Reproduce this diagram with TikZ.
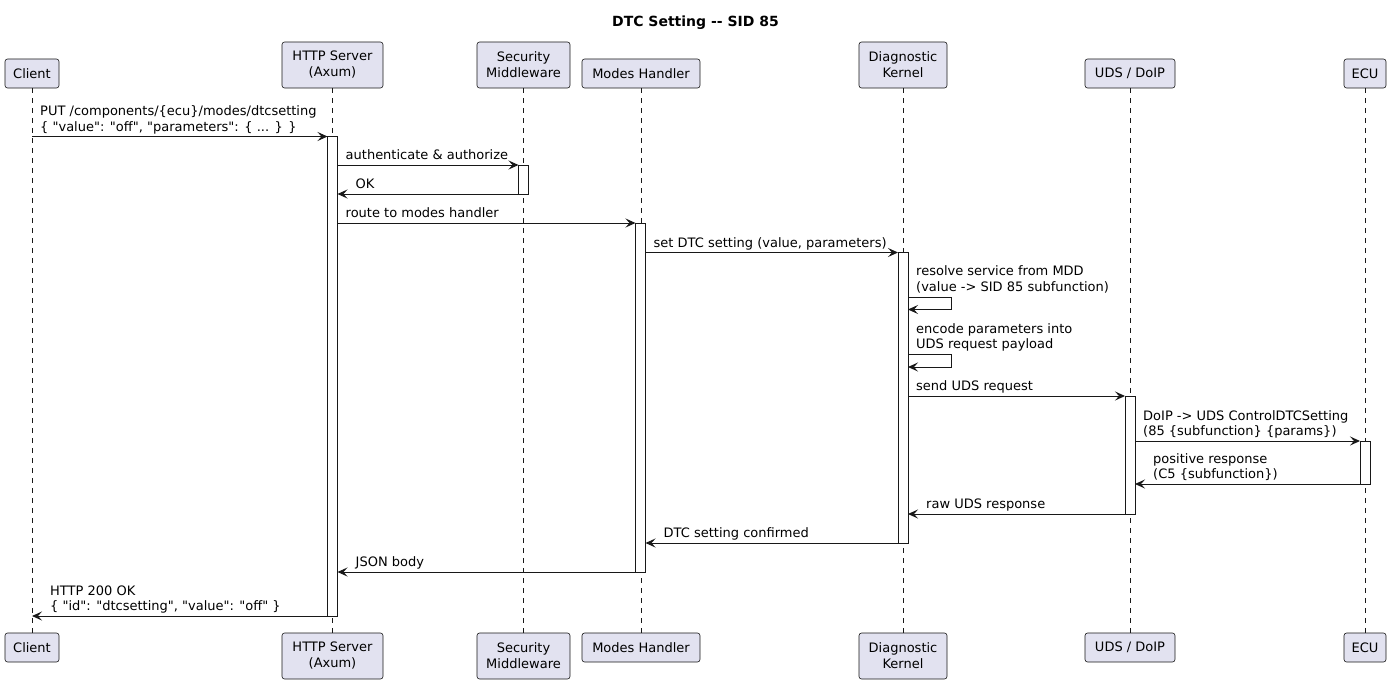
\documentclass[tikz,border=0pt]{standalone}
\usepackage{fontspec}
\setmainfont{DejaVu Sans}
\usetikzlibrary{arrows.meta}
\definecolor{partfill}{HTML}{E2E2F0}
\definecolor{ink}{HTML}{181818}
\newcommand{\qd}{\textquotedbl}
\tikzset{
  part/.style={draw=ink, fill=partfill, line width=0.6pt, rounded corners=2.5pt, align=center, inner sep=0pt, font=\fontsize{13}{16}\selectfont},
  lifeline/.style={draw=ink, line width=0.6pt, dash pattern=on 5pt off 5pt},
  actbar/.style={draw=ink, fill=white, line width=0.9pt},
  msg/.style={draw=ink, line width=1pt, -{Stealth[length=10pt,width=9pt,inset=4pt]}},
  lbl/.style={anchor=base west, inner sep=0pt, font=\fontsize{13}{16}\selectfont},
}
\begin{document}
\begin{tikzpicture}[x=1pt,y=-1pt]
\useasboundingbox (0,0) rectangle (1391,685);
% title
\node[font=\bfseries\fontsize{14}{16}\selectfont, inner sep=0pt] (title) at (695.5,22.5) {DTC Setting -{}- SID 85};
% top participants
\node[part, minimum width=54pt, minimum height=29pt] (client) at (32,73.5) {Client};
\node[part, minimum width=101pt, minimum height=46pt] (http) at (332.5,65) {HTTP Server\\(Axum)};
\node[part, minimum width=93pt, minimum height=46pt] (sec) at (523.5,65) {Security\\Middleware};
\node[part, minimum width=118pt, minimum height=29pt] (modes) at (641,73.5) {Modes Handler};
\node[part, minimum width=88pt, minimum height=46pt] (diag) at (903,65) {Diagnostic\\Kernel};
\node[part, minimum width=90pt, minimum height=29pt] (uds) at (1130,73.5) {UDS / DoIP};
\node[part, minimum width=42pt, minimum height=29pt] (ecu) at (1365,73.5) {ECU};
% bottom participants
\node[part, minimum width=54pt, minimum height=29pt] (clientB) at (32,647.5) {Client};
\node[part, minimum width=101pt, minimum height=46pt] (httpB) at (332.5,656) {HTTP Server\\(Axum)};
\node[part, minimum width=93pt, minimum height=46pt] (secB) at (523.5,656) {Security\\Middleware};
\node[part, minimum width=118pt, minimum height=29pt] (modesB) at (641,647.5) {Modes Handler};
\node[part, minimum width=88pt, minimum height=46pt] (diagB) at (903,656) {Diagnostic\\Kernel};
\node[part, minimum width=90pt, minimum height=29pt] (udsB) at (1130,647.5) {UDS / DoIP};
\node[part, minimum width=42pt, minimum height=29pt] (ecuB) at (1365,647.5) {ECU};
% lifelines
\draw[lifeline] (client.south) -- (clientB.north);
\draw[lifeline] (http.south) -- (httpB.north);
\draw[lifeline] (sec.south) -- (secB.north);
\draw[lifeline] (modes.south) -- (modesB.north);
\draw[lifeline] (diag.south) -- (diagB.north);
\draw[lifeline] (uds.south) -- (udsB.north);
\draw[lifeline] (ecu.south) -- (ecuB.north);
% activation bars
\draw[actbar] (327.5,136.5) rectangle (337.5,616);
\draw[actbar] (518.5,165) rectangle (528.5,194);
\draw[actbar] (635.5,223) rectangle (645.5,572);
\draw[actbar] (898,252.5) rectangle (908,543);
\draw[actbar] (1125,396) rectangle (1135,514);
\draw[actbar] (1360,441) rectangle (1370,484);
% message end points
\coordinate (m1a) at (32,136.5);    \coordinate (m1b) at (327.5,136.5);
\coordinate (m2a) at (337.5,165);   \coordinate (m2b) at (518.5,165);
\coordinate (m3a) at (518.5,194);   \coordinate (m3b) at (337.5,194);
\coordinate (m4a) at (337.5,223);   \coordinate (m4b) at (635.5,223);
\coordinate (m5a) at (645.5,252.5); \coordinate (m5b) at (898,252.5);
\coordinate (m6a) at (908,297);     \coordinate (m6b) at (908,309.5);
\coordinate (m7a) at (908,354.5);   \coordinate (m7b) at (908,367);
\coordinate (m8a) at (908,396);     \coordinate (m8b) at (1125,396);
\coordinate (m9a) at (1135,441);    \coordinate (m9b) at (1360,441);
\coordinate (m10a) at (1360,484);   \coordinate (m10b) at (1135,484);
\coordinate (m11a) at (1125,514);   \coordinate (m11b) at (908,514);
\coordinate (m12a) at (898,543);    \coordinate (m12b) at (645.5,543);
\coordinate (m13a) at (635.5,572);  \coordinate (m13b) at (337.5,572);
\coordinate (m14a) at (327.5,616);  \coordinate (m14b) at (32,616);
% messages
\draw[msg] (m1a) -- (m1b);
\draw[msg] (m2a) -- (m2b);
\draw[msg] (m3a) -- (m3b);
\draw[msg] (m4a) -- (m4b);
\draw[msg] (m5a) -- (m5b);
\draw[msg] (m6a) -- ++(43,0) |- (m6b);
\draw[msg] (m7a) -- ++(43,0) |- (m7b);
\draw[msg] (m8a) -- (m8b);
\draw[msg] (m9a) -- (m9b);
\draw[msg] (m10a) -- (m10b);
\draw[msg] (m11a) -- (m11b);
\draw[msg] (m12a) -- (m12b);
\draw[msg] (m13a) -- (m13b);
\draw[msg] (m14a) -- (m14b);
% labels
\node[lbl] (l1a) at (40,115.5) {PUT /components/\{ecu\}/modes/dtcsetting};
\node[lbl] (l1b) at (40,131) {\{ \qd value\qd: \qd off\qd, \qd parameters\qd: \{ ... \} \}};
\node[lbl] (l2) at (345.5,159.5) {authenticate \& authorize};
\node[lbl] (l3) at (355.5,188.5) {OK};
\node[lbl] (l4) at (345.5,217.5) {route to modes handler};
\node[lbl] (l5) at (653.5,247) {set DTC setting (value, parameters)};
\node[lbl] (l6a) at (916,275.5) {resolve service from MDD};
\node[lbl] (l6b) at (916,291) {(value -> SID 85 subfunction)};
\node[lbl] (l7a) at (916,333) {encode parameters into};
\node[lbl] (l7b) at (916,348.5) {UDS request payload};
\node[lbl] (l8) at (916,390.5) {send UDS request};
\node[lbl] (l9a) at (1143,420) {DoIP -> UDS ControlDTCSetting};
\node[lbl] (l9b) at (1143,435.5) {(85 \{subfunction\} \{params\})};
\node[lbl] (l10a) at (1153,463) {positive response};
\node[lbl] (l10b) at (1153,478.5) {(C5 \{subfunction\})};
\node[lbl] (l11) at (926,508.5) {raw UDS response};
\node[lbl] (l12) at (663.5,537.5) {DTC setting confirmed};
\node[lbl] (l13) at (355.5,566.5) {JSON body};
\node[lbl] (l14a) at (50,595) {HTTP 200 OK};
\node[lbl] (l14b) at (50,610.5) {\{ \qd id\qd: \qd dtcsetting\qd, \qd value\qd: \qd off\qd\ \}};
\end{tikzpicture}
\end{document}
